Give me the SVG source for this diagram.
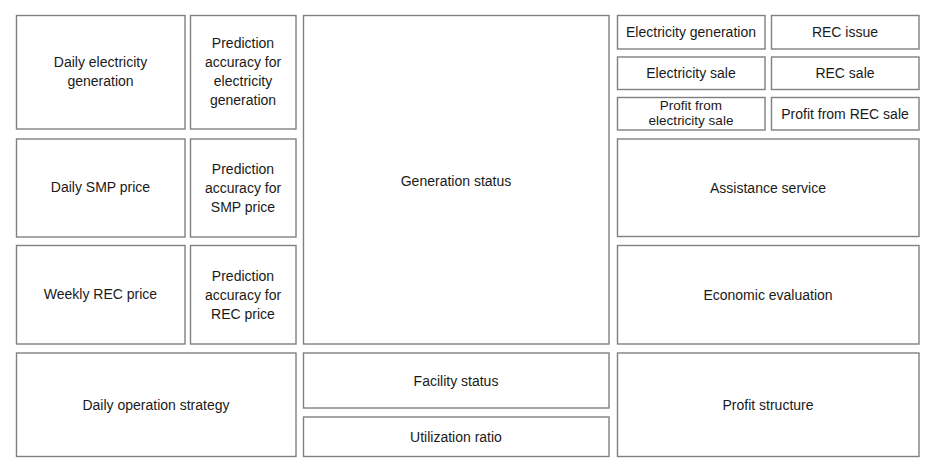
<svg xmlns="http://www.w3.org/2000/svg" width="937" height="473" viewBox="0 0 937 473">
<style>
rect.b{fill:#fff;stroke:#808080;stroke-width:1.4}
text{font-family:"Liberation Sans",Arial,sans-serif;font-size:14px;fill:#1a1a1a;text-anchor:middle}
text.s{font-size:13.5px}
</style>
<rect width="937" height="473" fill="#fff"/>
<g id="n1"><rect class="b" x="16.5" y="15.5" width="168.5" height="113.5"/><text x="100.5" y="67">Daily electricity</text><text x="100.5" y="86">generation</text></g>
<g id="n2"><rect class="b" x="190.5" y="15.5" width="105.5" height="113.5"/><text x="243" y="48">Prediction</text><text x="243" y="67">accuracy for</text><text x="243" y="86">electricity</text><text x="243" y="105">generation</text></g>
<g id="n3"><rect class="b" x="16.5" y="139" width="168.5" height="98"/><text x="100.5" y="192">Daily SMP price</text></g>
<g id="n4"><rect class="b" x="190.5" y="139" width="105.5" height="98"/><text x="243" y="174">Prediction</text><text x="243" y="193">accuracy for</text><text x="243" y="212">SMP price</text></g>
<g id="n5"><rect class="b" x="16.5" y="245.5" width="168.5" height="98.5"/><text x="100.5" y="299">Weekly REC price</text></g>
<g id="n6"><rect class="b" x="190.5" y="245.5" width="105.5" height="98.5"/><text x="243" y="281">Prediction</text><text x="243" y="300">accuracy for</text><text x="243" y="319">REC price</text></g>
<g id="n7"><rect class="b" x="16.5" y="353" width="279.5" height="103.5"/><text x="156" y="410">Daily operation strategy</text></g>
<g id="n8"><rect class="b" x="303.5" y="15.5" width="305.5" height="328.5"/><text x="456" y="186">Generation status</text></g>
<g id="n9"><rect class="b" x="303.5" y="353" width="305.5" height="55"/><text x="456" y="386">Facility status</text></g>
<g id="n10"><rect class="b" x="303.5" y="417" width="305.5" height="39.5"/><text x="456" y="442">Utilization ratio</text></g>
<g id="n11"><rect class="b" x="617.5" y="15.5" width="147.5" height="33.5"/><text x="691" y="37">Electricity generation</text></g>
<g id="n12"><rect class="b" x="771.5" y="15.5" width="147.5" height="33.5"/><text x="845" y="37">REC issue</text></g>
<g id="n13"><rect class="b" x="617.5" y="57" width="147.5" height="32.5"/><text x="691" y="78">Electricity sale</text></g>
<g id="n14"><rect class="b" x="771.5" y="57" width="147.5" height="32.5"/><text x="845" y="78">REC sale</text></g>
<g id="n15"><rect class="b" x="617.5" y="97.5" width="147.5" height="32.5"/><text class="s" x="691" y="110">Profit from</text><text class="s" x="691" y="125">electricity sale</text></g>
<g id="n16"><rect class="b" x="771.5" y="97.5" width="147.5" height="32.5"/><text x="845" y="119">Profit from REC sale</text></g>
<g id="n17"><rect class="b" x="617.5" y="139" width="301.5" height="97.5"/><text x="768" y="193">Assistance service</text></g>
<g id="n18"><rect class="b" x="617.5" y="245.5" width="301.5" height="98.5"/><text x="768" y="300">Economic evaluation</text></g>
<g id="n19"><rect class="b" x="617.5" y="353" width="301.5" height="103.5"/><text x="768" y="410">Profit structure</text></g>
<g id="connectors"></g>
</svg>
